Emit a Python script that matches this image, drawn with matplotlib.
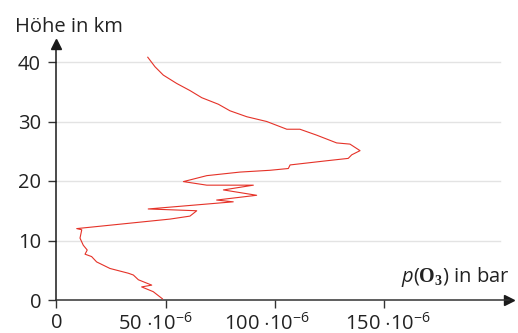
import matplotlib
matplotlib.use("Agg")
import matplotlib.pyplot as plt
import matplotlib.transforms as mtransforms

plt.rcParams['font.family'] = ['Open Sans', 'DejaVu Sans']
plt.rcParams['mathtext.fontset'] = 'custom'
plt.rcParams['mathtext.rm'] = 'Open Sans'
plt.rcParams['mathtext.it'] = 'Open Sans:italic'
plt.rcParams['mathtext.bf'] = 'Liberation Serif:bold'

# ozone partial pressure (1e-6 bar) vs altitude (km), ground -> top
ozon = [48.5, 44.3, 39.0, 43.6, 37.5, 35.2, 32.9, 24.5, 18.4, 16.1, 13.1,
        14.1, 12.3, 10.8, 11.6, 9.3, 52.0, 61.1, 64.2, 42.0, 80.9, 73.3,
        91.6, 76.4, 90.1, 68.8, 58.1, 68.8, 84.0, 97.7, 106.1, 106.9,
        123.6, 133.5, 135.1, 138.9, 134.3, 128.2, 119.1, 111.4, 105.4,
        96.2, 87.1, 79.4, 74.1, 66.5, 61.1, 55.0, 48.9, 45.1, 41.8]
hoehe = [0.2, 1.4, 2.2, 2.5, 3.4, 4.2, 4.5, 5.3, 6.4, 7.3, 7.7,
         8.4, 9.2, 10.4, 11.8, 12.0, 13.6, 14.1, 15.0, 15.3, 16.5, 16.8,
         17.6, 18.5, 19.3, 19.3, 19.9, 20.9, 21.5, 21.8, 22.1, 22.7,
         23.4, 23.8, 24.4, 25.1, 26.2, 26.4, 27.7, 28.7, 28.7,
         30.0, 30.8, 31.8, 32.9, 34.0, 35.2, 36.4, 37.8, 39.2, 40.8]

x_ticks = [0, 50, 100, 150]
x_labels = ['0', r'50 $\cdot$10$^{-6}$', r'100 $\cdot$10$^{-6}$', r'150 $\cdot$10$^{-6}$']
y_ticks = [0, 10, 20, 30, 40]

fig = plt.figure(figsize=(5.18, 3.33), dpi=100)
ax = fig.add_axes([56.4 / 518, 33 / 333, (509 - 56.4) / 518, 256 / 333])
ax.set_xlim(0, (509 - 56.4) / 2.186)
ax.set_ylim(0, 256 / 5.95)

for y in y_ticks[1:]:
    ax.plot([0, 203], [y, y], color='#e3e3e3', lw=1.0, zorder=1)

ax.plot(ozon, hoehe, color='#e53228', lw=0.8, zorder=3)

for s in ['top', 'right']:
    ax.spines[s].set_visible(False)
ax.spines['left'].set_color('#1a1a1a')
ax.spines['bottom'].set_color('#333333')
ax.spines['left'].set_linewidth(1.1)
ax.spines['bottom'].set_linewidth(1.1)

ax.plot(1, 0, '>', color='#1a1a1a', ms=6.5, transform=ax.transAxes, clip_on=False)
ax.plot(0, 1, '^', color='#1a1a1a', ms=6.5, transform=ax.transAxes, clip_on=False)

ax.set_yticks(y_ticks)
ax.set_yticklabels([str(v) for v in y_ticks], fontsize=14.5, color='#222222')
ax.set_xticks(x_ticks)
ax.set_xticklabels(x_labels, fontsize=14.5, color='#222222')
ax.tick_params(axis='both', length=6, width=1, color='#333333')
ax.tick_params(axis='y', pad=5)
ax.tick_params(axis='x', pad=3)

# small horizontal shifts of the x labels as in the original
shifts = [0, -10, -8, 4]
for lab, dx in zip(ax.get_xticklabels(), shifts):
    lab.set_transform(lab.get_transform() + mtransforms.ScaledTranslation(dx / 100, 0, fig.dpi_scale_trans))

fig.text(15 / 518, 1 - 31.7 / 333, 'Höhe in km', fontsize=14.5, color='#222222',
         ha='left', va='baseline')
fig.text(510 / 518, 1 - 281.7 / 333, r'$p(\mathbf{O}_{\mathbf{3}})$ in bar', fontsize=14.5,
         color='#222222', ha='right', va='baseline')

fig.savefig('out.png', dpi=100)
